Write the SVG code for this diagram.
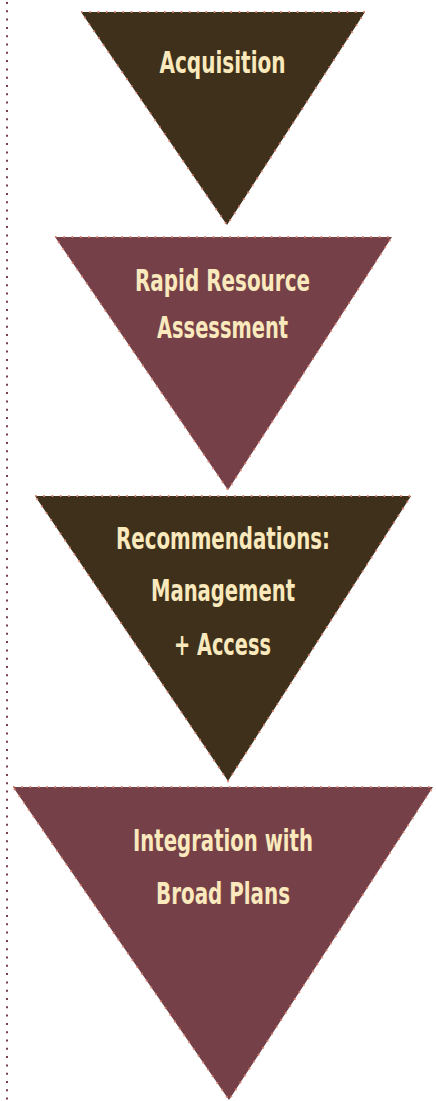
<svg xmlns="http://www.w3.org/2000/svg" width="436" height="1101" viewBox="0 0 436 1101">
<style>
.tri{stroke:#d9826f;stroke-width:2;stroke-dasharray:1.6 6.7;}
.dark{fill:#3f301b;}
.red{fill:#764048;}
.lbl{font-family:"Liberation Sans Narrow","DejaVu Sans Condensed","Liberation Sans",sans-serif;font-weight:bold;font-size:31px;fill:#f9e9bd;text-anchor:middle;}
</style>
<rect width="436" height="1101" fill="#ffffff"/>
<g id="connectors">
<line x1="7" y1="2" x2="7" y2="1101" stroke="#7a4048" stroke-width="2" stroke-dasharray="2 6.3"/>
</g>
<g id="acquisition">
<polygon class="tri dark" points="81,12 365,12 227,225"/>
<text class="lbl" x="222.5" y="73" textLength="126" lengthAdjust="spacingAndGlyphs">Acquisition</text>
</g>
<g id="assessment">
<polygon class="tri red" points="55,237 392,237 228,490"/>
<text class="lbl" x="222.5" y="291" textLength="175" lengthAdjust="spacingAndGlyphs">Rapid Resource</text>
<text class="lbl" x="222.5" y="338" textLength="131" lengthAdjust="spacingAndGlyphs">Assessment</text>
</g>
<g id="recommendations">
<polygon class="tri dark" points="35,496 411,496 228,781"/>
<text class="lbl" x="223" y="549" textLength="214" lengthAdjust="spacingAndGlyphs">Recommendations:</text>
<text class="lbl" x="223" y="601" textLength="144" lengthAdjust="spacingAndGlyphs">Management</text>
<text class="lbl" x="222.5" y="655" textLength="97" lengthAdjust="spacingAndGlyphs">+ Access</text>
</g>
<g id="integration">
<polygon class="tri red" points="13,787 433,787 229,1100"/>
<text class="lbl" x="223" y="851" textLength="180" lengthAdjust="spacingAndGlyphs">Integration with</text>
<text class="lbl" x="223" y="904" textLength="134" lengthAdjust="spacingAndGlyphs">Broad Plans</text>
</g>
</svg>
